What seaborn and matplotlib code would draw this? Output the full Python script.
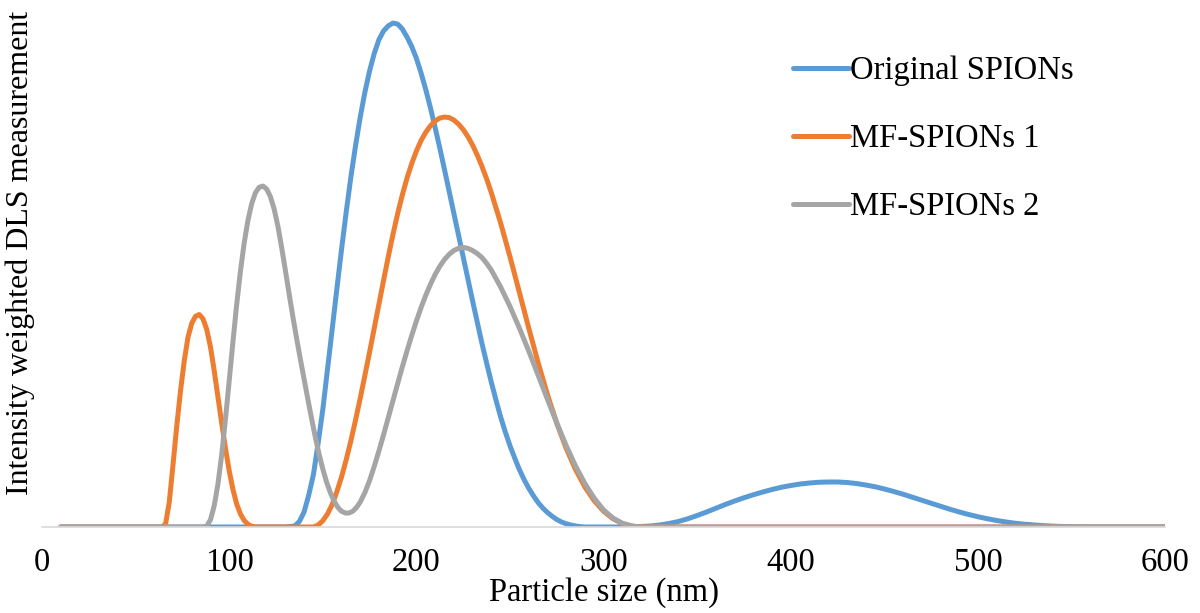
import numpy as np
import pandas as pd
import matplotlib
matplotlib.use("Agg")
import matplotlib.pyplot as plt
import seaborn as sns

# ---------------- data ----------------
series_names = ["Original SPIONs", "MF-SPIONs 1", "MF-SPIONs 2"]
colors = ["#5B9BD5", "#ED7D31", "#A5A5A5"]

orig_x = [10, 130, 135, 137.5, 140, 142.5, 145, 147.5, 150, 152.5, 155, 157.5, 160, 162.5,
          165, 167.5, 170, 172.5, 175, 177.5, 180, 182.5, 185, 187.5, 190, 192.5, 195,
          197.5, 200, 202.5, 205, 207.5, 210, 212.5, 215, 217.5, 220, 222.5, 225, 227.5,
          230, 232.5, 235, 237.5, 240, 242.5, 245, 247.5, 250, 252.5, 255, 257.5, 260,
          262.5, 265, 267.5, 270, 272.5, 275, 277.5, 280, 282.5, 285, 287.5, 290, 300,
          310, 315, 320, 325, 330, 335, 340, 345, 350, 355, 360, 365, 370, 375, 380, 385,
          390, 395, 400, 405, 410, 415, 420, 425, 430, 435, 440, 445, 450, 455, 460, 465,
          470, 475, 480, 485, 490, 495, 500, 505, 510, 515, 520, 525, 530, 535, 540, 545,
          550, 555, 560, 600]
orig_y = [0, 0, 0.04, 0.22, 0.6, 1.28, 2.1, 3.35, 4.7, 6.3, 7.9, 9.52, 11.1, 12.6,
          14.0, 15.26, 16.4, 17.4, 18.25, 18.95, 19.5, 19.85, 20.05, 20.16, 20.12, 19.92, 19.6,
          19.22, 18.75, 18.16, 17.5, 16.77, 15.98, 15.16, 14.3, 13.43, 12.55, 11.68, 10.8, 9.93,
          9.05, 8.2, 7.35, 6.56, 5.8, 5.08, 4.4, 3.8, 3.25, 2.76, 2.3, 1.9, 1.55,
          1.25, 0.98, 0.76, 0.58, 0.43, 0.3, 0.2, 0.13, 0.08, 0.04, 0.015, 0.0, 0.0,
          0.0, 0.005, 0.02, 0.04, 0.08, 0.14, 0.22, 0.33, 0.46, 0.6, 0.75, 0.9, 1.04, 1.17, 1.29, 1.4,
          1.5, 1.59, 1.66, 1.72, 1.76, 1.79, 1.8, 1.8, 1.78, 1.74, 1.68, 1.61, 1.52, 1.42, 1.31, 1.19,
          1.07, 0.95, 0.83, 0.71, 0.6, 0.5, 0.41, 0.33, 0.26, 0.2, 0.15, 0.11, 0.08, 0.055, 0.035, 0.02,
          0.01, 0.004, 0.0, 0.0]

mf1_x = [10, 64, 66, 68, 70, 72, 74, 76, 78, 80, 82, 84, 86, 88, 90, 92, 94, 96, 98,
         100, 102, 104, 106, 108, 110, 112, 114, 145, 147.5, 150, 152.5, 155, 157.5, 160,
         162.5, 165, 167.5, 170, 172.5, 175, 177.5, 180, 182.5, 185, 187.5, 190, 192.5,
         195, 197.5, 200, 202.5, 205, 207.5, 210, 212.5, 215, 217.5, 220, 222.5, 225,
         227.5, 230, 232.5, 235, 237.5, 240, 245, 250, 255, 260, 265, 270, 275, 280, 285,
         290, 295, 300, 305, 310, 315, 320, 600]
mf1_y = [0, 0, 0.12, 1.0, 2.5, 4.05, 5.45, 6.65, 7.6, 8.15, 8.43, 8.5, 8.33, 7.9, 7.2, 6.25, 5.2, 4.15, 3.15,
         2.25, 1.5, 0.92, 0.52, 0.26, 0.11, 0.03, 0.0, 0.0, 0.075, 0.25, 0.52, 0.9, 1.41, 2.0,
         2.69, 3.45, 4.28, 5.15, 6.07, 7.0, 7.96, 8.92, 9.88, 10.82, 11.71, 12.54, 13.29,
         13.96, 14.54, 15.04, 15.46, 15.79, 16.05, 16.24, 16.36, 16.4, 16.38, 16.28, 16.12, 15.9,
         15.62, 15.28, 14.88, 14.43, 13.93, 13.38, 12.16, 10.81, 9.39, 7.96, 6.58, 5.3, 4.15, 3.15, 2.3,
         1.6, 1.05, 0.63, 0.33, 0.14, 0.04, 0.0, 0.0]

mf2_x = [10, 86, 88, 90, 92, 94, 96, 98, 100, 102, 104, 106, 108, 110, 112, 114, 116, 118,
         120, 122, 124, 126, 128, 130, 132, 134, 136, 138, 140, 142, 144, 146, 148, 150,
         152, 154, 156, 158, 160, 162, 164, 166, 168, 170, 172.5, 175, 177.5, 180, 182.5,
         185, 187.5, 190, 192.5, 195, 197.5, 200, 202.5, 205, 207.5, 210, 212.5, 215,
         217.5, 220, 222.5, 225, 227.5, 230, 232.5, 235, 237.5, 240, 245, 250, 255, 260,
         265, 270, 275, 280, 285, 290, 295, 300, 305, 310, 315, 320, 600]
mf2_y = [0, 0, 0.03, 0.29, 0.85, 1.72, 2.9, 4.31, 5.85, 7.41, 8.9, 10.23, 11.36, 12.26, 12.93, 13.37, 13.59, 13.64,
         13.52, 13.22, 12.72, 12.04, 11.19, 10.27, 9.33, 8.42, 7.55, 6.72, 5.92, 5.12, 4.34, 3.6, 2.92, 2.32,
         1.8, 1.38, 1.04, 0.79, 0.63, 0.56, 0.56, 0.63, 0.78, 1.0, 1.38, 1.86, 2.43, 3.05, 3.7,
         4.38, 5.06, 5.74, 6.41, 7.05, 7.66, 8.24, 8.78, 9.27, 9.71, 10.1, 10.43, 10.7,
         10.91, 11.06, 11.15, 11.18, 11.15, 11.06, 10.94, 10.78, 10.55, 10.28, 9.6, 8.82, 7.96, 7.04,
         6.08, 5.11, 4.16, 3.26, 2.44, 1.74, 1.15, 0.68, 0.36, 0.15, 0.04, 0.0, 0.0]

x_ticks = [0, 100, 200, 300, 400, 500, 600]

# ---------------- build long table ----------------
frames = []
for name, xs, ys in zip(series_names, [orig_x, mf1_x, mf2_x], [orig_y, mf1_y, mf2_y]):
    frames.append(pd.DataFrame({"size": xs, "intensity": ys, "series": name}))
df = pd.concat(frames, ignore_index=True)

# ---------------- style ----------------
sns.set_theme(style="white")
plt.rcParams["font.family"] = ["Liberation Serif", "DejaVu Serif"]
plt.rcParams["text.color"] = "black"
FS = 23.5
LW = 3.6

fig = plt.figure(figsize=(12, 6.13), dpi=100)
ax = fig.add_axes([0.035, 0.1403, 0.936, 0.840])

sns.lineplot(data=df, x="size", y="intensity", hue="series", hue_order=series_names,
             palette=colors, estimator=None, sort=False, linewidth=LW, ax=ax)

for ln in ax.lines:
    ln.set_solid_capstyle("round")
    ln.set_solid_joinstyle("round")

ax.set_xlim(0, 600)
ax.set_ylim(0, 20.6)
ax.set_xticks(x_ticks)
ax.set_xticklabels([str(t) for t in x_ticks])
ax.set_yticks([])
ax.tick_params(axis="x", length=0, pad=15, labelsize=FS, colors="black")

for side in ["top", "right", "left"]:
    ax.spines[side].set_visible(False)
ax.spines["bottom"].set_color("#D9D9D9")
ax.spines["bottom"].set_linewidth(1.2)

ax.set_xlabel("Particle size (nm)", fontsize=FS, labelpad=-1, color="black")
ax.set_ylabel("Intensity weighted DLS measurement", fontsize=23, color="black")
ax.yaxis.set_label_coords(-0.006, 0.532)

handles, labels = ax.get_legend_handles_labels()
leg = ax.legend(handles, labels, loc="upper left", bbox_to_anchor=(0.669, 0.915),
                frameon=False, fontsize=FS, handlelength=1.69, handletextpad=0.05,
                labelspacing=1.15, borderaxespad=0, borderpad=0)
for h in leg.get_lines():
    h.set_linewidth(LW)
    h.set_solid_capstyle("round")
for t in leg.get_texts():
    t.set_color("black")

fig.savefig("out.png", dpi=100)
